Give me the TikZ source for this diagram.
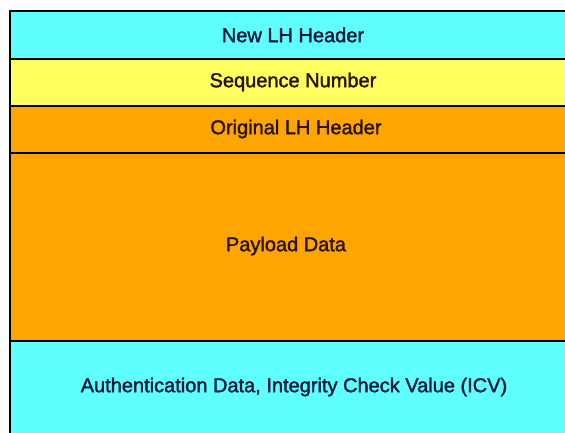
\documentclass[tikz,border=0pt]{standalone}
\usepackage{fontspec}
\setmainfont{Liberation Sans}
\newfontfamily\lblfont{Liberation Sans}[FakeBold=1.6]
\definecolor{cyanfill}{HTML}{5FFFFF}
\definecolor{yellowfill}{HTML}{FFFF5F}
\definecolor{orangefill}{HTML}{FFA500}
\definecolor{bluetext}{HTML}{0A1A3A}
\definecolor{browntext}{HTML}{2A1200}
\begin{document}
\begin{tikzpicture}[x=1pt,y=-1pt,
  field/.style={draw=black,line width=1.8pt},
  lbl/.style={font=\lblfont\fontsize{20}{24}\selectfont,anchor=center}]
\useasboundingbox (0,0) rectangle (565,432);
\clip (0,0) rectangle (565,432);
\fill[white] (0,0) rectangle (565,432);
\path[field,fill=cyanfill] (10,11) rectangle (580,59);
\path[field,fill=yellowfill] (10,59) rectangle (580,106);
\path[field,fill=orangefill] (10,106) rectangle (580,153);
\path[field,fill=orangefill] (10,153) rectangle (580,341);
\path[field,fill=cyanfill] (10,341) rectangle (580,450);
\node[lbl,text=bluetext] (newlh) at (293,35) {New LH Header};
\node[lbl,text=browntext] (seq) at (293,82) {Sequence Number};
\node[lbl,text=browntext] (orig) at (296,129) {Original LH Header};
\node[lbl,text=browntext] (pay) at (286,246) {Payload Data};
\node[lbl,text=bluetext] (auth) at (294,387) {Authentication Data, Integrity Check Value (ICV)};
\end{tikzpicture}
\end{document}
